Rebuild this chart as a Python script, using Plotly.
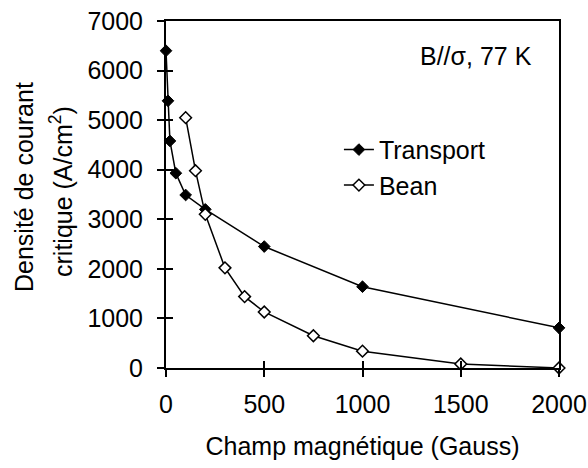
import plotly.graph_objects as go

transport_field = [0, 10, 20, 50, 100, 200, 500, 1000, 2000]
transport_jc = [6400, 5390, 4580, 3930, 3490, 3200, 2450, 1640, 810]

bean_field = [100, 150, 200, 300, 400, 500, 750, 1000, 1500, 2000]
bean_jc = [5050, 3980, 3100, 2020, 1440, 1130, 650, 340, 80, 0]

x_ticks = [0, 500, 1000, 1500, 2000]
y_ticks = [0, 1000, 2000, 3000, 4000, 5000, 6000, 7000]

FONT = dict(family="Liberation Sans, Arial, sans-serif", size=25, color="black")

fig = go.Figure()
fig.add_trace(go.Scatter(
    x=transport_field, y=transport_jc, name="Transport", mode="lines+markers",
    line=dict(color="black", width=1.5),
    marker=dict(symbol="diamond", size=9, color="black", line=dict(color="black", width=1)),
    cliponaxis=False, legendgroup="a"))
fig.add_trace(go.Scatter(
    x=bean_field, y=bean_jc, name="Bean", mode="lines+markers",
    line=dict(color="black", width=1.5),
    marker=dict(symbol="diamond", size=9, color="white", line=dict(color="black", width=1.5)),
    cliponaxis=False, legendgroup="b"))
# helper trace to activate the overlay axes that draw the inner half of the ticks
fig.add_trace(go.Scatter(x=[None], y=[None], xaxis="x2", yaxis="y2", showlegend=False,
                         hoverinfo="skip", mode="markers"))

axis_common = dict(showgrid=False, zeroline=False, linecolor="black", linewidth=2,
                   tickcolor="black", tickwidth=2, ticklen=7, tickfont=FONT, automargin=False)

L, T, R, B = 166, 21, 29, 100
WIDTH, HEIGHT = 588, 468
W, H = WIDTH - L - R, HEIGHT - T - B


def px_to_paper(px, py):
    return (px - L) / W, (T + H - py) / H


t1x, t1y = px_to_paper(24, 187)
t2x, t2y = px_to_paper(61, 192)

fig.update_layout(
    template="none",
    width=WIDTH, height=HEIGHT,
    margin=dict(l=L, r=R, t=T, b=B),
    paper_bgcolor="white", plot_bgcolor="white",
    font=FONT,
    showlegend=True,
    legend=dict(x=0.44, y=0.695, xanchor="left", yanchor="top", bgcolor="rgba(0,0,0,0)",
                font=FONT, tracegroupgap=0, traceorder="grouped"),
    xaxis=dict(range=[0, 2000], tickvals=x_ticks, ticks="outside", showline=True, mirror=True,
               ticklabelstandoff=6,
               title=dict(text="Champ magnétique (Gauss)", font=FONT, standoff=20),
               **axis_common),
    yaxis=dict(range=[0, 7000], tickvals=y_ticks, ticks="outside", showline=True, mirror=True,
               ticklabelstandoff=9, **axis_common),
    xaxis2=dict(range=[0, 2000], tickvals=x_ticks, ticks="inside", showticklabels=False,
                overlaying="x", showline=False, showgrid=False, zeroline=False, automargin=False,
                tickcolor="black", tickwidth=2, ticklen=7, anchor="y2", side="bottom"),
    yaxis2=dict(range=[0, 7000], tickvals=y_ticks, ticks="inside", showticklabels=False,
                overlaying="y", showline=False, showgrid=False, zeroline=False, automargin=False,
                tickcolor="black", tickwidth=2, ticklen=7, anchor="x2", side="left"),
    annotations=[
        dict(text="B//σ, 77 K", x=0.936, y=0.9, xref="paper", yref="paper",
             xanchor="right", yanchor="middle", showarrow=False, font=FONT),
        dict(text="Densité de courant", x=t1x, y=t1y, xref="paper", yref="paper",
             xanchor="center", yanchor="middle", showarrow=False, font=FONT, textangle=-90),
        dict(text="critique (A/cm<sup>2</sup>)", x=t2x, y=t2y, xref="paper", yref="paper",
             xanchor="center", yanchor="middle", showarrow=False, font=FONT, textangle=-90),
    ],
)

fig.write_html("out.html", config={"displayModeBar": False},
               post_script="document.body.style.margin='0px';")
